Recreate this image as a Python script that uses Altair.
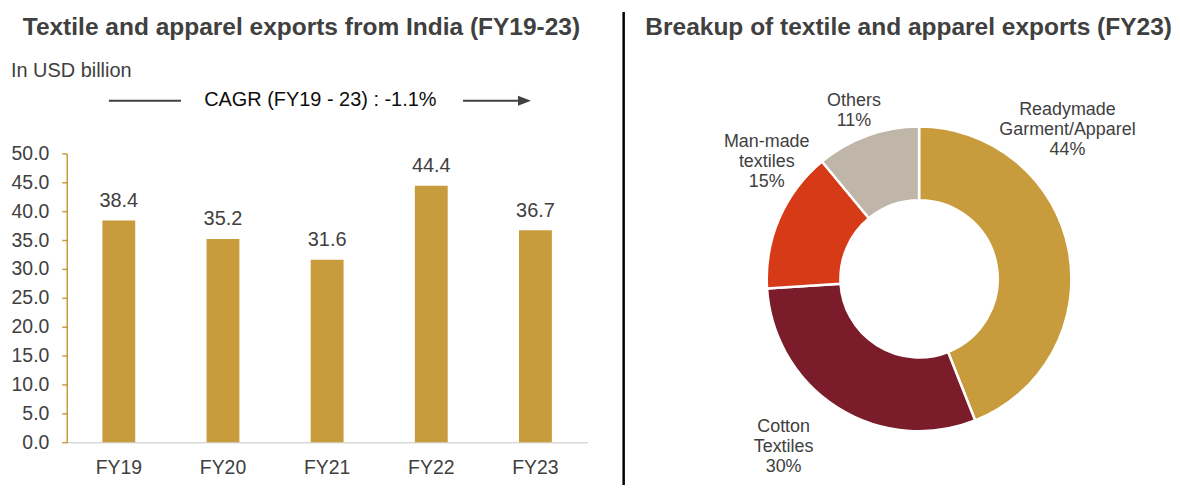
import altair as alt
import pandas as pd

# ---------------- data ----------------
years = ["FY19", "FY20", "FY21", "FY22", "FY23"]
exports = [38.4, 35.2, 31.6, 44.4, 36.7]
y_ticks = [0, 5, 10, 15, 20, 25, 30, 35, 40, 45, 50]

segments = ["Readymade Garment/Apparel", "Cotton Textiles", "Man-made textiles", "Others"]
segment_lines = ["Readymade\nGarment/Apparel", "Cotton\nTextiles", "Man-made\ntextiles", "Others"]
shares = [44, 30, 15, 11]
segment_colors = ["#C89B3C", "#7B1C2A", "#D63A16", "#BFB5A8"]

left_title = "Textile and apparel exports from India (FY19-23)"
right_title = "Breakup of textile and apparel exports (FY23)"
unit_text = "In USD billion"
cagr_text = "CAGR (FY19 - 23) : -1.1%"

FONT = "Liberation Sans"
GREY = "#404040"
GOLD = "#C89B3C"

bar_df = pd.DataFrame({"year": years, "value": exports})
pie_df = pd.DataFrame({
    "segment": segments,
    "share": shares,
    "idx": list(range(len(segments))),
    "label": [n + "\n" + f"{s}%" for n, s in zip(segment_lines, shares)],
})
one = pd.DataFrame({"k": [0]})

# ---------------- left panel ----------------
W1, H1 = 523, 290
base = alt.Chart(bar_df)

x_axis = alt.Axis(title=None, labelAngle=0, ticks=False,
                  domainColor="#D9D9D9", domainWidth=1.5,
                  labelFontSize=19.5, labelColor=GREY, labelFont=FONT,
                  labelPadding=16)
y_axis = alt.Axis(title=None, values=y_ticks, format=".1f", grid=False,
                  domainColor=GOLD, domainWidth=1.5,
                  tickColor=GOLD, tickSize=5, tickWidth=1.5,
                  labelFontSize=19.5, labelColor=GREY, labelFont=FONT,
                  labelPadding=13, labelOverlap=False)
x_enc = alt.X("year:N", sort=years, scale=alt.Scale(paddingInner=0, paddingOuter=0), axis=x_axis)
y_enc = alt.Y("value:Q", scale=alt.Scale(domain=[0, 50], nice=False), axis=y_axis)

bars = base.mark_bar(size=33, color=GOLD).encode(x=x_enc, y=y_enc)

bar_text = base.mark_text(dy=-13.7, baseline="alphabetic", fontSize=20,
                          color=GREY, font=FONT).encode(
    x=x_enc, y=y_enc, text=alt.Text("value:Q", format=".1f"))

hdr = alt.Chart(one)
t_left = hdr.mark_text(fontSize=24.6, fontWeight="bold", color=GREY, font=FONT,
                       align="center", baseline="alphabetic").encode(
    x=alt.value(235.7), y=alt.value(-119.2), text=alt.value(left_title))
t_unit = hdr.mark_text(fontSize=20, color=GREY, font=FONT,
                       align="left", baseline="alphabetic").encode(
    x=alt.value(-56), y=alt.value(-77), text=alt.value(unit_text))
t_cagr = hdr.mark_text(fontSize=20, color="#0D0D0D", font=FONT,
                       align="left", baseline="alphabetic").encode(
    x=alt.value(138), y=alt.value(-47.3), text=alt.value(cagr_text))
line_a = hdr.mark_rule(color=GREY, strokeWidth=2).encode(
    x=alt.value(42.3), x2=alt.value(114.7), y=alt.value(-52.9))
line_b = hdr.mark_rule(color=GREY, strokeWidth=2).encode(
    x=alt.value(398), x2=alt.value(455), y=alt.value(-52.8))
head = hdr.mark_point(shape="M-1,-0.77L1,0L-1,0.77Z", size=169, filled=True,
                      color=GREY, opacity=1, strokeWidth=0).encode(
    x=alt.value(459.7), y=alt.value(-52.8))

left = alt.layer(bars, bar_text, t_left, t_unit, t_cagr, line_a, line_b, head).properties(
    width=W1, height=H1)

# ---------------- right panel ----------------
W2 = 252
pbase = alt.Chart(pie_df)

arcs = pbase.mark_arc(radius=153, radius2=79, stroke="white", strokeWidth=2.5).encode(
    theta=alt.Theta("share:Q", stack=True),
    color=alt.Color("segment:N", scale=alt.Scale(domain=segments, range=segment_colors),
                    legend=None),
    order=alt.Order("idx:Q"),
)

label_offsets = [(-27.8, -136), (-39.6, -3), (12.2, -65.5), (-4.4, -9.5)]
label_layers = []
for seg, (dx, dy) in zip(segments, label_offsets):
    lay = pbase.transform_stack(
        stack="share", as_=["s0", "s1"], groupby=[], sort=[alt.SortField("idx")]
    ).transform_calculate(
        mid="(datum.s0 + datum.s1) / 2"
    ).transform_filter(
        alt.datum.segment == seg
    ).mark_text(dx=dx, dy=dy, radius=180, lineBreak="\n", fontSize=18, lineHeight=20,
                color=GREY, font=FONT, align="center", baseline="middle").encode(
        theta=alt.Theta("mid:Q", stack=False),
        text="label:N",
    )
    label_layers.append(lay)

t_right = hdr.mark_text(fontSize=24.6, fontWeight="bold", color=GREY, font=FONT,
                        align="center", baseline="alphabetic").encode(
    x=alt.value(115.5), y=alt.value(-119.2), text=alt.value(right_title))
divider = hdr.mark_rule(color="black", strokeWidth=2.5).encode(
    x=alt.value(-170.7), y=alt.value(-142), y2=alt.value(333))

right = alt.layer(arcs, *label_layers, t_right, divider).properties(width=W2, height=W2)

chart = alt.hconcat(left, right, spacing=207, bounds="flush").properties(
    padding={"left": 3, "top": 1, "right": 0, "bottom": 0}
).configure_view(stroke=None)

chart.save("out.html", embed_options={"renderer": "svg", "actions": False})
